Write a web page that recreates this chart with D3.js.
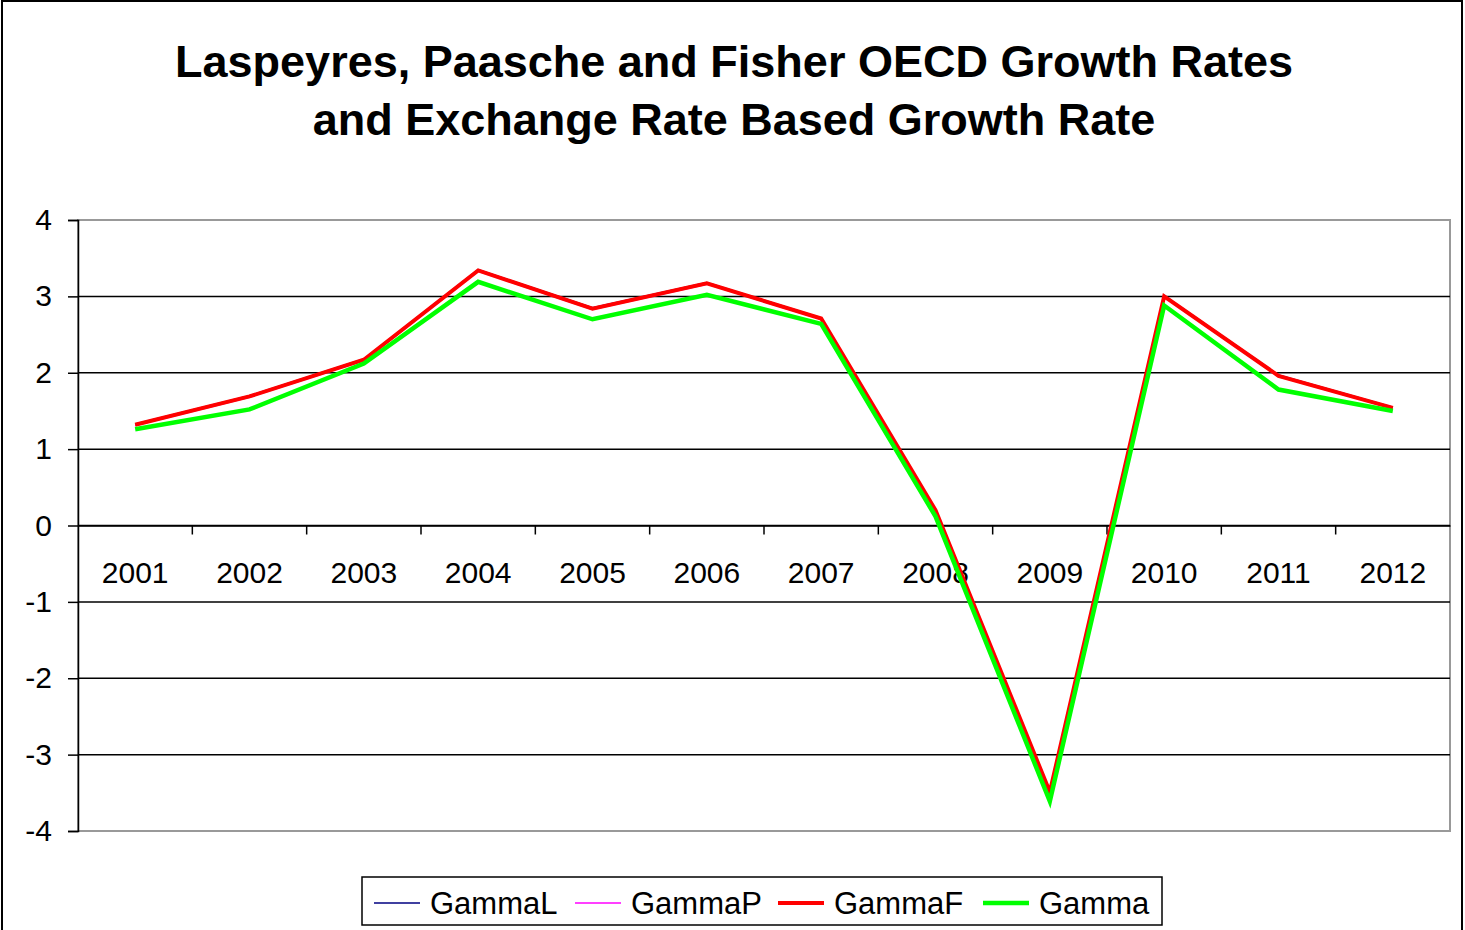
<!DOCTYPE html>
<html>
<head>
<meta charset="utf-8">
<script src="https://cdn.jsdelivr.net/npm/d3@7"></script>
<style>
  body { margin: 0; background: #fff; }
  svg { font-family: "Liberation Sans", Arial, sans-serif; }
</style>
</head>
<body>
<div id="container"></div>
<script>
/* DATA */
const years = ["2001","2002","2003","2004","2005","2006","2007","2008","2009","2010","2011","2012"];
const gammaL = [1.33, 1.70, 2.18, 3.35, 2.85, 3.18, 2.72, 0.21, -3.48, 3.01, 1.97, 1.55];
const gammaP = [1.31, 1.68, 2.16, 3.33, 2.83, 3.16, 2.70, 0.19, -3.50, 2.99, 1.95, 1.53];
const gammaF = [1.32, 1.69, 2.17, 3.34, 2.84, 3.17, 2.71, 0.20, -3.49, 3.00, 1.96, 1.54];
const gamma  = [1.26, 1.52, 2.12, 3.19, 2.70, 3.02, 2.64, 0.12, -3.61, 2.88, 1.78, 1.50];
const yTicks = [4, 3, 2, 1, 0, -1, -2, -3, -4];

const series = [
  {name: "GammaL", values: gammaL, color: "#000080", w: 1.5},
  {name: "GammaP", values: gammaP, color: "#ff00ff", w: 1.5},
  {name: "GammaF", values: gammaF, color: "#ff0000", w: 4},
  {name: "Gamma",  values: gamma,  color: "#00ff00", w: 4.5}
];

/* CONSTANTS */
const width = 1465, height = 930;
const plot = {left: 78, right: 1450, top: 220, bottom: 831};

const svg = d3.select("#container").append("svg")
  .attr("width", width).attr("height", height);

// chart border
svg.append("rect")
  .attr("x", 2).attr("y", 1).attr("width", 1460).attr("height", 940)
  .attr("fill", "none").attr("stroke", "#000").attr("stroke-width", 2);

/* TITLE */
const title = svg.append("text")
  .attr("text-anchor", "middle").attr("font-weight", "bold").attr("font-size", 45);
title.append("tspan").attr("x", 734).attr("y", 77).text("Laspeyres, Paasche and Fisher OECD Growth Rates");
title.append("tspan").attr("x", 734).attr("y", 135).text("and Exchange Rate Based Growth Rate");

/* SCALES */
const xScale = d3.scaleBand()
  .domain(years)
  .range([plot.left, plot.right]);

const yScale = d3.scaleLinear()
  .domain([-4, 4])
  .range([plot.bottom, plot.top]);

// plot area outline (gray)
svg.append("rect")
  .attr("x", plot.left).attr("y", plot.top)
  .attr("width", plot.right - plot.left).attr("height", plot.bottom - plot.top)
  .attr("fill", "none").attr("stroke", "#999").attr("stroke-width", 2);

// gridlines
svg.append("g")
  .selectAll("line")
  .data(yTicks.filter(d => d !== 4 && d !== -4))
  .join("line")
    .attr("x1", plot.left).attr("x2", plot.right)
    .attr("y1", d => yScale(d)).attr("y2", d => yScale(d))
    .attr("stroke", "#000").attr("stroke-width", 1.5);

// y axis
const yAxis = svg.append("g")
  .attr("transform", `translate(${plot.left},0)`)
  .call(d3.axisLeft(yScale).tickValues(yTicks).tickFormat(d => String(d)).tickSize(10).tickPadding(16));
yAxis.select(".domain").attr("stroke-width", 1.5);
yAxis.selectAll(".tick line").attr("stroke-width", 1.5);
yAxis.selectAll("text").attr("font-size", 30).attr("font-family", "Liberation Sans, Arial, sans-serif").attr("fill", "#000");

// x axis at zero
const xAxis = svg.append("g")
  .attr("transform", `translate(0,${yScale(0)})`)
  .call(d3.axisBottom(xScale).tickSize(0).tickPadding(36));
xAxis.select(".domain").attr("stroke-width", 1.5);
xAxis.selectAll("text").attr("font-size", 30).attr("font-family", "Liberation Sans, Arial, sans-serif").attr("fill", "#000");
// category separator ticks
xAxis.append("g")
  .selectAll("line")
  .data(years.slice(1))
  .join("line")
    .attr("x1", d => xScale(d)).attr("x2", d => xScale(d))
    .attr("y1", 0).attr("y2", 9)
    .attr("stroke", "#000").attr("stroke-width", 1.5);

/* LINES */
const line = d3.line()
  .x((d, i) => xScale(years[i]) + xScale.bandwidth() / 2)
  .y(d => yScale(d));

svg.append("g")
  .selectAll("path")
  .data(series)
  .join("path")
    .attr("d", d => line(d.values))
    .attr("fill", "none")
    .attr("stroke", d => d.color)
    .attr("stroke-width", d => d.w)
    .attr("stroke-linejoin", "miter");

/* LEGEND */
const legend = svg.append("g");
legend.append("rect")
  .attr("x", 362).attr("y", 877).attr("width", 800).attr("height", 48)
  .attr("fill", "#fff").attr("stroke", "#000").attr("stroke-width", 1.5);

const legendX = [374, 575, 778, 983];
const items = legend.selectAll("g.item")
  .data(series)
  .join("g")
    .attr("class", "item")
    .attr("transform", (d, i) => `translate(${legendX[i]},903)`);
items.append("line")
  .attr("x1", 0).attr("x2", 46).attr("y1", 0).attr("y2", 0)
  .attr("stroke", d => d.color).attr("stroke-width", d => d.w);
items.append("text")
  .attr("x", 56).attr("y", 11)
  .attr("font-size", 31)
  .text(d => d.name);
</script>
</body>
</html>
